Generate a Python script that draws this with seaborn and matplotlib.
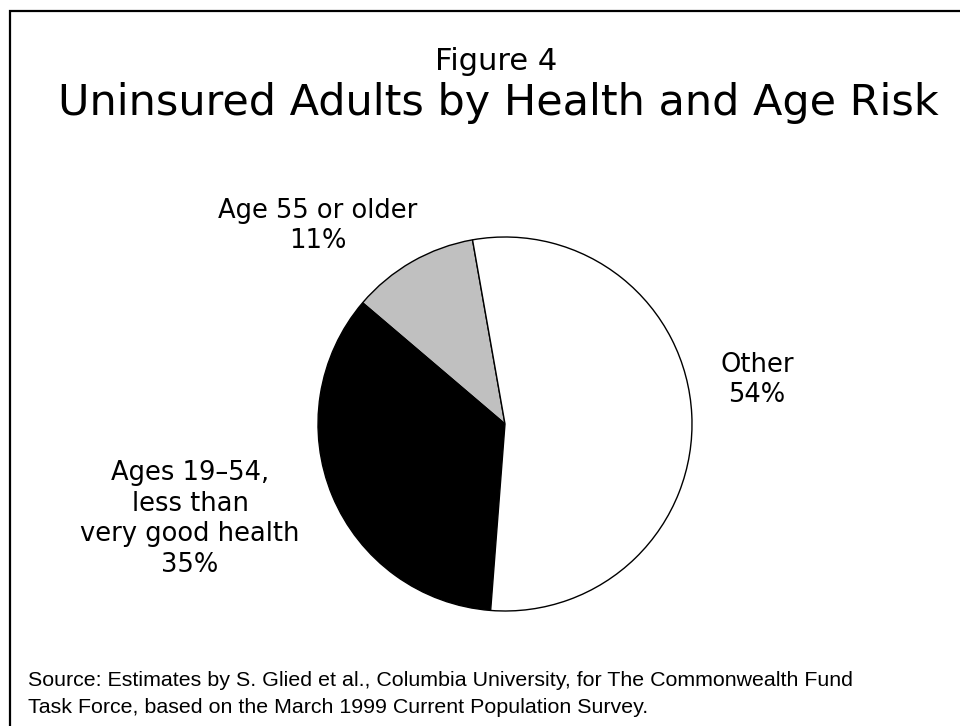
import matplotlib
matplotlib.use("Agg")
import matplotlib.pyplot as plt
import seaborn as sns
from matplotlib.patches import Rectangle

sns.set_theme(style="white")
plt.rcParams["font.family"] = ["DejaVu Sans"]
plt.rcParams["text.color"] = "black"

# Shares of uninsured adults, drawn counter-clockwise from just left of 12 o'clock
groups = ["Age 55 or older", "Ages 19\u201354,\nless than\nvery good health", "Other"]
shares = [11, 35, 54]
colors = ["#c0c0c0", "#000000", "#ffffff"]

W, H = 960, 726
fig = plt.figure(figsize=(W / 100, H / 100), dpi=100)
fig.patch.set_facecolor("white")

# pie centre and radius in pixels; axes spans the whole figure at 1 data unit = R px
cx, cy, R = 505, 424, 187
ax = fig.add_axes([0, 0, 1, 1])
ax.pie(shares, colors=colors, startangle=100, counterclock=True,
       wedgeprops=dict(edgecolor="black", linewidth=1.0), radius=1.0, center=(0, 0))
ax.set_xlim((0 - cx) / R, (W - cx) / R)
ax.set_ylim((cy - H) / R, cy / R)
ax.set_aspect("equal")
ax.axis("off")

def px(x, y):
    return (x - cx) / R, (cy - y) / R

label_pos = [(318, 226), (190, 519), (757, 380)]
for g, s, (lx, ly) in zip(groups, shares, label_pos):
    ax.text(*px(lx, ly), f"{g}\n{s}%", ha="center", va="center",
            fontsize=18.5, linespacing=1.22, color="black")

fig.text(496 / W, 1 - 62 / H, "Figure 4", ha="center", va="center",
         fontsize=22, color="black")
fig.text(498 / W, 1 - 103 / H, "Uninsured Adults by Health and Age Risk",
         ha="center", va="center", fontsize=31, color="black")

fig.text(28 / W, 1 - 694 / H,
         "Source: Estimates by S. Glied et al., Columbia University, for The Commonwealth Fund\n"
         "Task Force, based on the March 1999 Current Population Survey.",
         ha="left", va="center", fontsize=15.4, family=["Liberation Sans"],
         linespacing=1.5, color="black")

# outer frame
fig.patches.append(Rectangle((10 / W, -0.1), 1.2, 1.1 - 11 / H, transform=fig.transFigure,
                             fill=False, edgecolor="black", linewidth=1.6, clip_on=False))

fig.savefig("out.png", dpi=100, facecolor="white")
